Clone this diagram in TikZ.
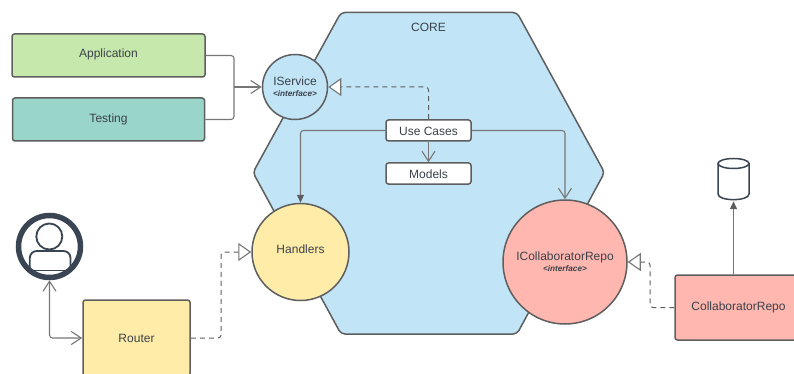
\documentclass[tikz,border=0pt]{standalone}
\usepackage{fontspec}
\setmainfont{Liberation Sans}
\usetikzlibrary{arrows.meta,calc}
\definecolor{edgegray}{HTML}{5E5E5E}
\definecolor{conngray}{HTML}{767676}
\definecolor{txt}{HTML}{3A414A}
\definecolor{navy}{HTML}{3A4553}
\definecolor{cgreen}{HTML}{C7E8AC}
\definecolor{cteal}{HTML}{9AD5CA}
\definecolor{cblue}{HTML}{C1E4F7}
\definecolor{cyellow}{HTML}{FFECA9}
\definecolor{cred}{HTML}{FFB7AF}
\tikzset{
  x=1pt,y=-1pt,
  boxstyle/.style={draw=edgegray,line width=1.5pt,rounded corners=2.5pt,inner sep=0pt,text=txt,font=\fontsize{12}{14}\selectfont},
  circstyle/.style={circle,draw=edgegray,line width=1.5pt,inner sep=0pt,text=txt,align=center,font=\fontsize{12}{14}\selectfont},
  conn/.style={draw=conngray,line width=1.1pt,rounded corners=3pt},
  dashconn/.style={draw=edgegray,line width=1pt,rounded corners=3pt,dash pattern=on 5pt off 4pt},
  openhead/.tip={Straight Barb[length=10pt,width=13pt,line width=1.1pt,color=conngray]},
  hollowhead/.tip={Triangle[open,length=13pt,width=18pt,line width=1.1pt,fill=white,color=conngray]},
  solidhead/.tip={Triangle[length=8pt,width=7pt,color=edgegray]},
}
\newcommand{\ifc}{\\[-3pt]{\fontsize{8.2}{9}\selectfont\bfseries\itshape <interface>}}
\newcommand{\lifted}[2]{\raisebox{\dimexpr-4.3pt+#1\relax}[0pt][0pt]{#2}}
\begin{document}
\begin{tikzpicture}
\useasboundingbox (0,0) rectangle (794,374);
\clip (0,0) rectangle (794,374);
% hexagon
\draw[draw=edgegray,line width=1.5pt,fill=cblue,rounded corners=4pt]
  (341,12.5) -- (517,12.5) -- (604.5,172.5) -- (517,334) -- (341,334) -- (253,172.5) -- cycle;
\node[text=txt,font=\fontsize{12}{14}\selectfont] (core) at (428.5,27) {CORE};
% boxes
\node[boxstyle,fill=cgreen,minimum width=193pt,minimum height=43pt] (app) at (108.5,55.5) {\lifted{2pt}{Application}};
\node[boxstyle,fill=cteal,minimum width=192pt,minimum height=43pt] (test) at (108.5,119.5) {\lifted{1.5pt}{Testing}};
\node[circstyle,fill=cblue,minimum size=65pt] (iserv) at (295,87) {IService\ifc};
\node[boxstyle,fill=white,minimum width=85pt,minimum height=21pt] (uc) at (428.5,130.5) {\lifted{-1pt}{Use Cases}};
\node[boxstyle,fill=white,minimum width=85pt,minimum height=21pt] (models) at (428.5,173.5) {\lifted{-1pt}{Models}};
\node[circstyle,fill=cyellow,minimum size=97pt] (handlers) at (300.5,252) {\lifted{3pt}{Handlers}};
\node[circstyle,fill=cred,minimum size=124pt] (icol) at (565,262) {ICollaboratorRepo\ifc};
\node[boxstyle,fill=cred,minimum width=127pt,minimum height=65pt] (collab) at (738.5,307.5) {\lifted{1.5pt}{CollaboratorRepo}};
\node[boxstyle,fill=cyellow,minimum width=107pt,minimum height=76pt] (router) at (136.5,338) {Router};
% actor
\node[circle,draw=navy,line width=5.5pt,fill=white,minimum size=62pt,inner sep=0pt] (actor) at (49.5,246.5) {};
\draw[navy,line width=1.8pt] (49.3,236.5) circle (13);
\draw[navy,line width=1.8pt,rounded corners=7pt] (29.8,270.5) -- (29.8,251) -- (70.5,251) -- (70.5,270.5);
\draw[navy,line width=1.8pt] (30,270.5) -- (70,270.5);
% cylinder
\node[minimum width=31pt,minimum height=42pt,inner sep=0pt] (cyl) at (733.5,179) {};
\draw[navy,line width=1.5pt,fill=white] (718,163) -- (718,194) .. controls (718,201.5) and (749,201.5) .. (749,194) -- (749,163);
\draw[navy,line width=1.5pt,fill=white] (733.5,163.5) ellipse[x radius=15.5,y radius=5];
% connectors
\coordinate (jn) at (234,87);
\coordinate (rj) at (221,252);
\coordinate (cj) at (650,262);
\draw[conn] (app.east) -| (jn);
\draw[conn] (test.east) -| (jn);
\draw[conn,-{openhead}] (jn) -- (iserv.west);
\draw[dashconn,-{hollowhead}] (uc.north) |- (iserv.east);
\draw[conn,-{openhead}] (uc.south) -- (models.north);
\draw[conn,-{solidhead}] (uc.west) -| (handlers.north);
\draw[conn,-{openhead}] (uc.east) -| (icol.north);
\draw[dashconn,-{hollowhead}] (router.east) -| (rj) -- (handlers.west);
\draw[dashconn,-{hollowhead}] (collab.west) -| (cj) -- (icol.east);
\draw[conn,{openhead}-{openhead}] (actor.south) |- (router.west);
\draw[conn,-{solidhead},shorten >=1pt] (collab.north -| cyl.south) -- (cyl.south);
\end{tikzpicture}
\end{document}
